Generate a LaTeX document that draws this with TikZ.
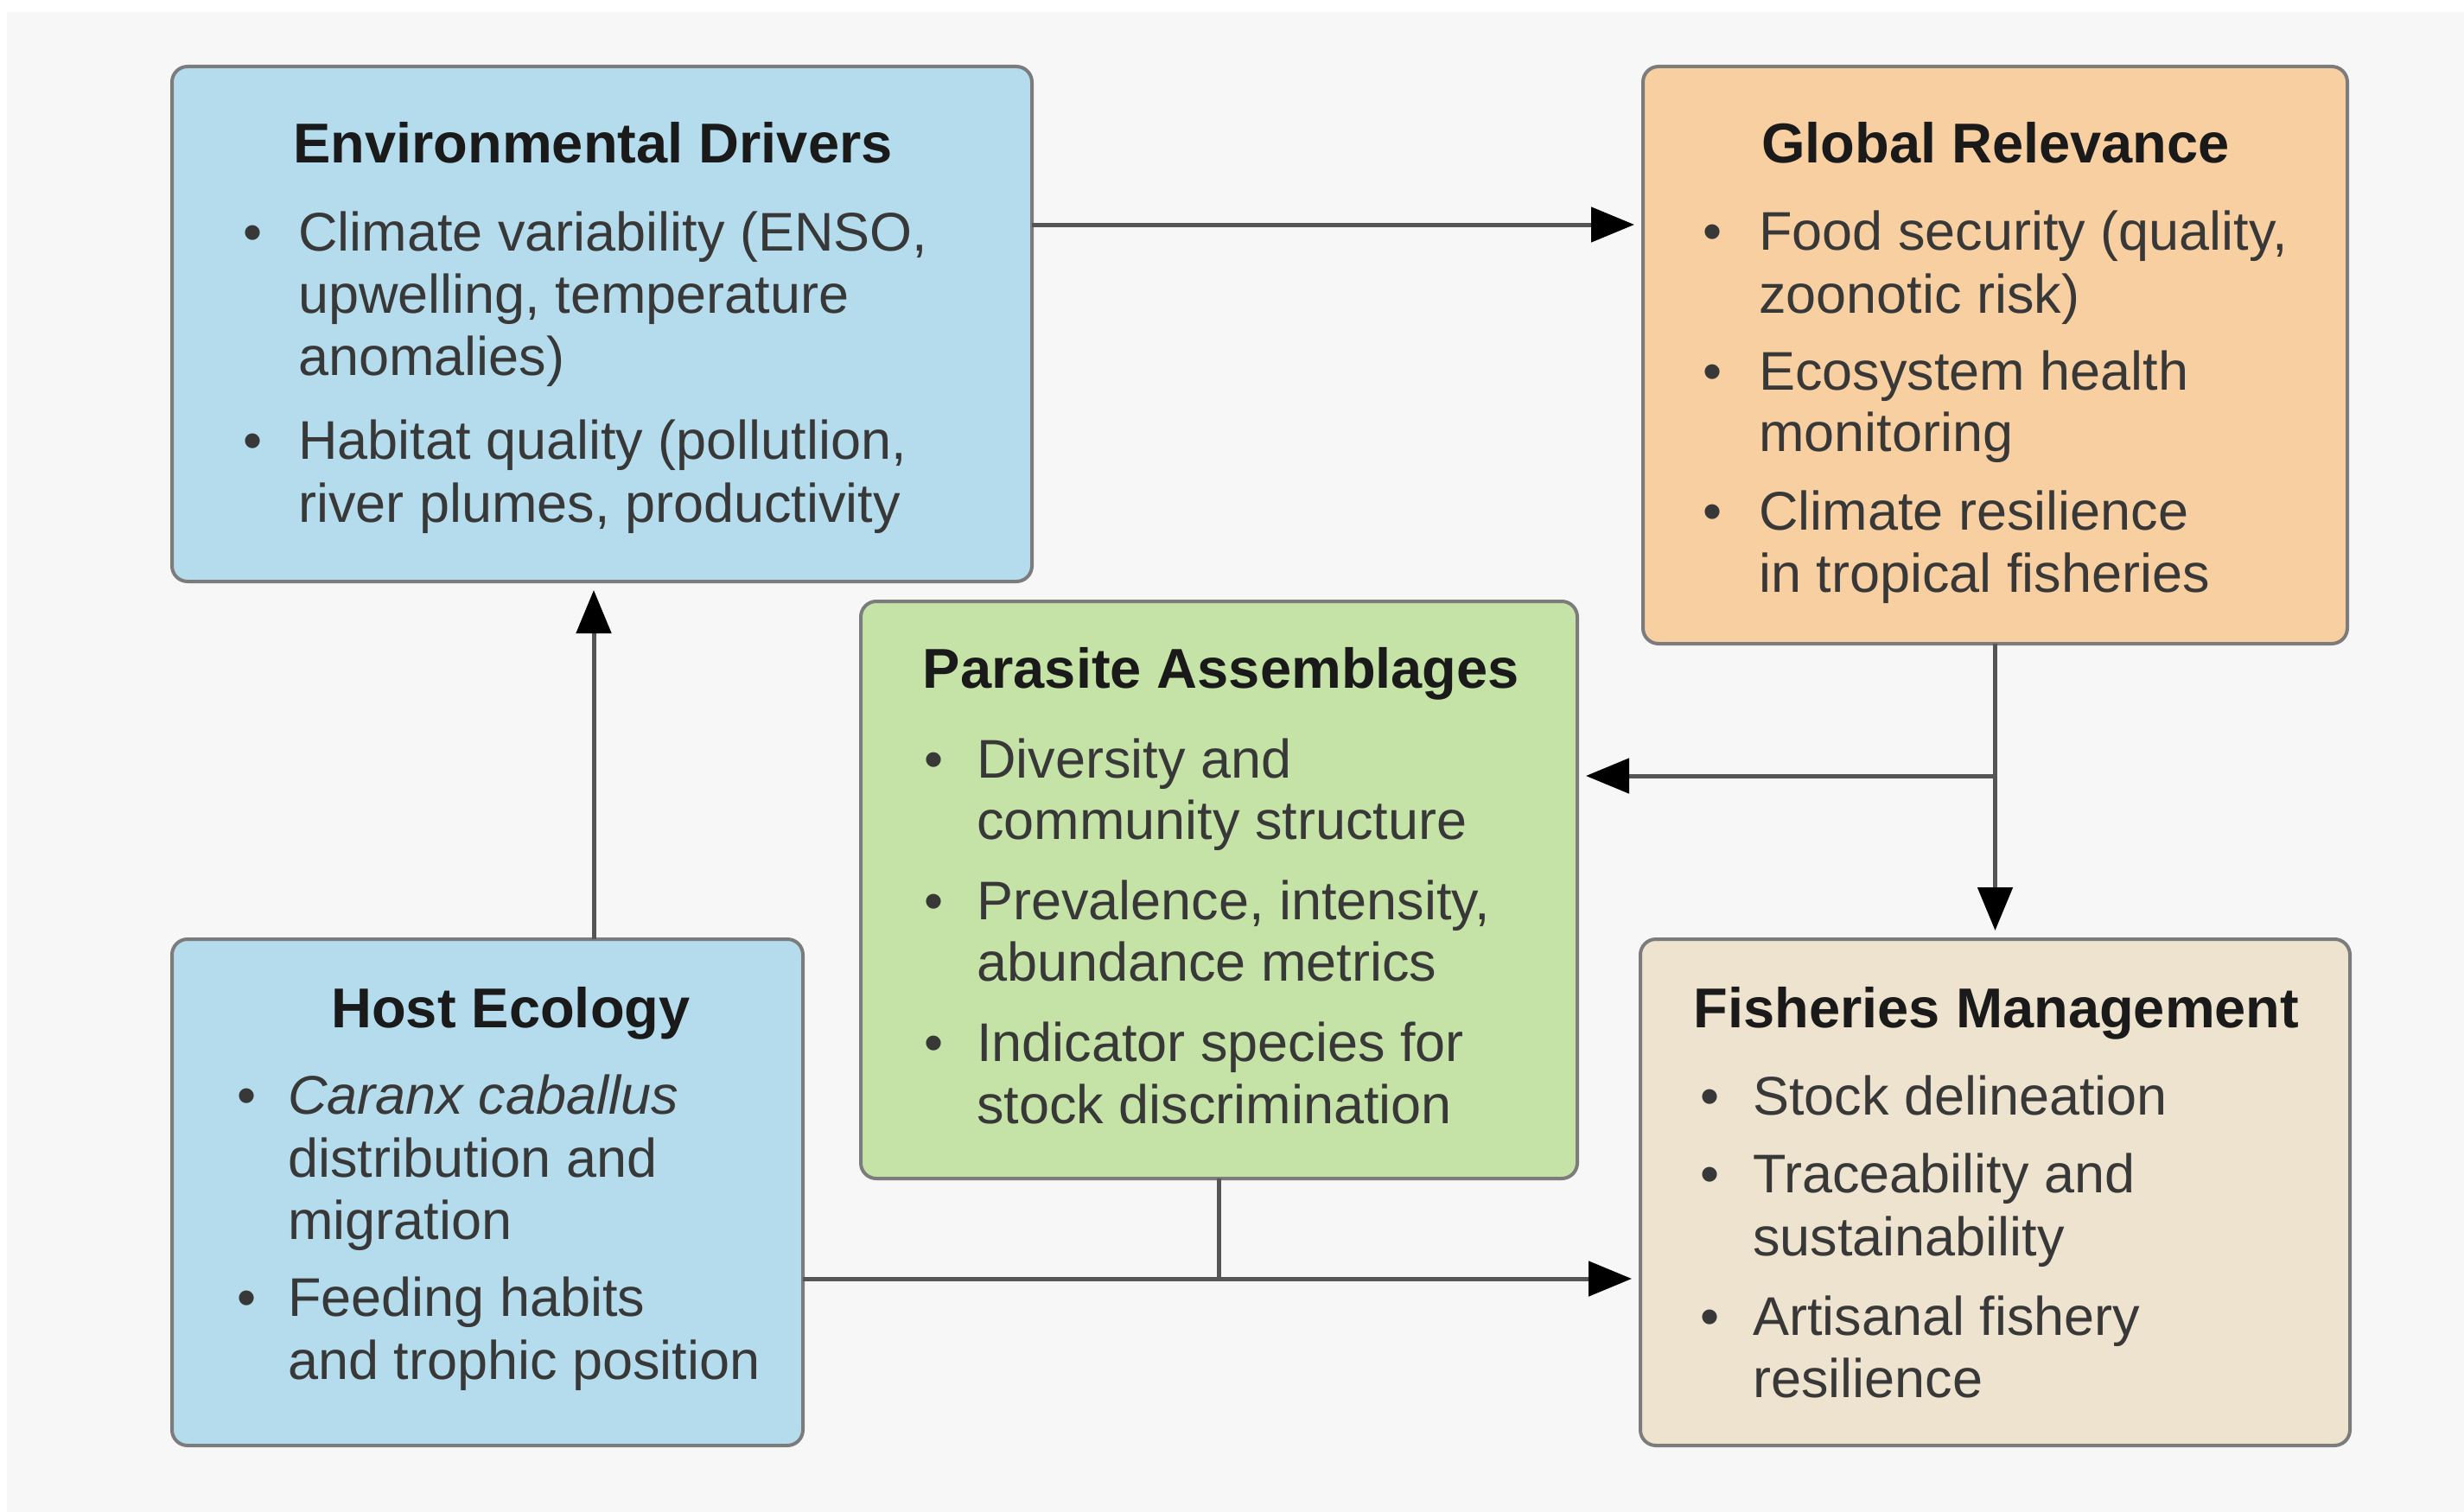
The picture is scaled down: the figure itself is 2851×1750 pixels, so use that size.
\documentclass[tikz,border=0pt]{standalone}
\usepackage{fontspec}
\setmainfont{Liberation Sans}
\usetikzlibrary{arrows.meta}
\definecolor{bgc}{HTML}{F7F7F7}
\definecolor{blueF}{HTML}{B4DCEC}
\definecolor{peachF}{HTML}{F7CFA0}
\definecolor{greenF}{HTML}{C6E3A7}
\definecolor{beigeF}{HTML}{EDE3CF}
\definecolor{edgeC}{HTML}{7C7C7C}
\definecolor{lineC}{HTML}{555555}
\definecolor{titleC}{HTML}{1A1A1A}
\definecolor{bodyC}{HTML}{383838}
\begin{document}
\begin{tikzpicture}[x=1pt,y=-1pt,
  box/.style={draw=edgeC, line width=4pt, rounded corners=18pt, anchor=north west, inner sep=0pt, outer sep=0pt},
  ttl/.style={anchor=base, inner sep=0pt, text=titleC, font=\fontsize{65}{72}\selectfont\bfseries},
  txt/.style={anchor=base west, inner sep=0pt, text=bodyC, font=\fontsize{63}{72}\selectfont},
  bul/.style={anchor=base, inner sep=0pt, text=bodyC, font=\fontsize{63}{72}\selectfont},
  conn/.style={draw=lineC, line width=5pt},
  arr/.style={conn, shorten >=10pt, -{Triangle[length=50pt,width=40pt,color=black]}}
]
\useasboundingbox (0,0) rectangle (2851,1750);
\fill[white] (0,0) rectangle (2851,1750);
\fill[bgc] (8,14) rectangle (2851,1750);

% boxes
\node[box, fill=blueF, minimum width=995pt, minimum height=596pt] (env) at (199,77) {};
\node[box, fill=peachF, minimum width=815pt, minimum height=668pt] (glob) at (1901,77) {};
\node[box, fill=greenF, minimum width=829pt, minimum height=668pt] (para) at (996,696) {};
\node[box, fill=blueF, minimum width=730pt, minimum height=586pt] (host) at (199,1087) {};
\node[box, fill=beigeF, minimum width=821pt, minimum height=586pt] (fish) at (1898,1087) {};

% Environmental Drivers
\node[ttl] (env-t) at (686,188) {Environmental Drivers};
\node[bul] (env-b1) at (293,290) {•};
\node[txt] (env-l1) at (345,290) {Climate variability (ENSO,};
\node[txt] (env-l2) at (345,362) {upwelling, temperature};
\node[txt] (env-l3) at (345,434) {anomalies)};
\node[bul] (env-b2) at (293,531) {•};
\node[txt] (env-l4) at (345,531) {Habitat quality (pollutlion,};
\node[txt] (env-l5) at (345,604) {river plumes, productivity};

% Global Relevance
\node[ttl] (glob-t) at (2309,188) {Global Relevance};
\node[bul] (glob-b1) at (1982,289) {•};
\node[txt] (glob-l1) at (2035,289) {Food security (quality,};
\node[txt] (glob-l2) at (2035,362) {zoonotic risk)};
\node[bul] (glob-b2) at (1982,451) {•};
\node[txt] (glob-l3) at (2035,451) {Ecosystem health};
\node[txt] (glob-l4) at (2035,522) {monitoring};
\node[bul] (glob-b3) at (1982,613) {•};
\node[txt] (glob-l5) at (2035,613) {Climate resilience};
\node[txt] (glob-l6) at (2035,685) {in tropical fisheries};

% Parasite Assemblages
\node[ttl] (para-t) at (1413,796) {Parasite Assemblages};
\node[bul] (para-b1) at (1081,900) {•};
\node[txt] (para-l1) at (1130,900) {Diversity and};
\node[txt] (para-l2) at (1130,971) {community structure};
\node[bul] (para-b2) at (1081,1064) {•};
\node[txt] (para-l3) at (1130,1064) {Prevalence, intensity,};
\node[txt] (para-l4) at (1130,1135) {abundance metrics};
\node[bul] (para-b3) at (1081,1228) {•};
\node[txt] (para-l5) at (1130,1228) {Indicator species for};
\node[txt] (para-l6) at (1130,1300) {stock discrimination};

% Host Ecology
\node[ttl] (host-t) at (591,1189) {Host Ecology};
\node[bul] (host-b1) at (286,1289) {•};
\node[txt] (host-l1) at (333,1289) {\itshape Caranx caballus};
\node[txt] (host-l2) at (333,1362) {distribution and};
\node[txt] (host-l3) at (333,1434) {migration};
\node[bul] (host-b2) at (286,1523) {•};
\node[txt] (host-l4) at (333,1523) {Feeding habits};
\node[txt] (host-l5) at (333,1596) {and trophic position};

% Fisheries Management
\node[ttl] (fish-t) at (2310,1189) {Fisheries Management};
\node[bul] (fish-b1) at (1979,1290) {•};
\node[txt] (fish-l1) at (2028,1290) {Stock delineation};
\node[bul] (fish-b2) at (1979,1380) {•};
\node[txt] (fish-l2) at (2028,1380) {Traceability and};
\node[txt] (fish-l3) at (2028,1453) {sustainability};
\node[bul] (fish-b3) at (1979,1545) {•};
\node[txt] (fish-l4) at (2028,1545) {Artisanal fishery};
\node[txt] (fish-l5) at (2028,1617) {resilience};

% connectors
\coordinate (yTop) at (0,260);
\coordinate (xUp) at (687,0);
\coordinate (yMid) at (0,898);
\coordinate (yLow) at (0,1480);
\draw[arr] (env.east |- yTop) -- (glob.west |- yTop);
\draw[arr] (host.north -| xUp) -- (env.south -| xUp);
\draw[arr] (glob.south) -- (fish.north);
\draw[arr] (glob.south |- yMid) -- (para.east |- yMid);
\draw[arr] (host.east |- yLow) -- (fish.west |- yLow);
\draw[conn] (para.south) -- (para.south |- yLow);
\end{tikzpicture}
\end{document}
